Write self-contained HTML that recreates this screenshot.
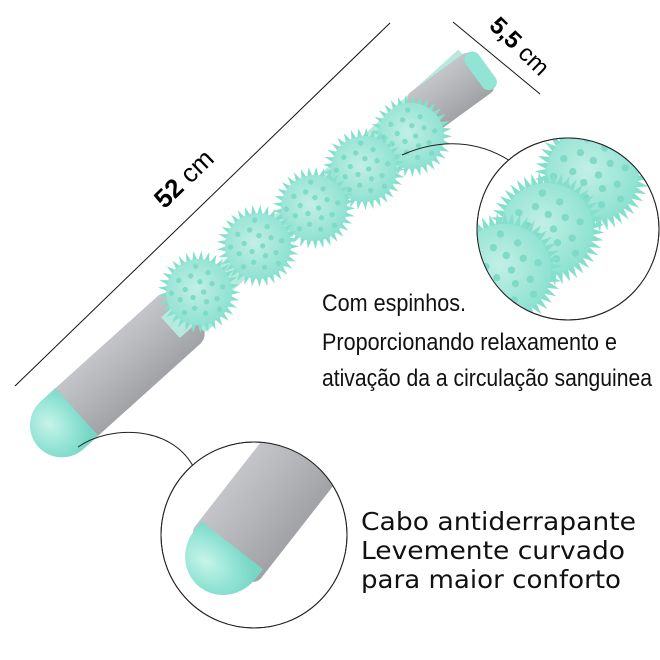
<!DOCTYPE html>
<html><head><meta charset="utf-8"><style>
html,body{margin:0;padding:0;background:#fff;width:660px;height:660px;overflow:hidden}
</style></head><body>
<svg id="s" width="660" height="660" viewBox="0 0 660 660" xmlns="http://www.w3.org/2000/svg">
<defs>
<linearGradient id="gr" x1="0" y1="0" x2="0" y2="1">
<stop offset="0" stop-color="#c4c5c9"/><stop offset="0.45" stop-color="#b4b6ba"/><stop offset="1" stop-color="#a0a2a6"/></linearGradient>
<radialGradient id="tc" cx="0.45" cy="0.35" r="0.7"><stop offset="0" stop-color="#c8f3ea"/><stop offset="0.6" stop-color="#92e4d5"/><stop offset="1" stop-color="#78d6c5"/></radialGradient>
<radialGradient id="bl" cx="0.45" cy="0.45" r="0.6"><stop offset="0" stop-color="#c2efe6"/><stop offset="1" stop-color="#8ae1d0"/></radialGradient>
<clipPath id="c1"><circle cx="568" cy="229" r="91"/></clipPath>
<clipPath id="c2"><circle cx="254" cy="535" r="93"/></clipPath>
</defs>
<line x1="15" y1="386" x2="390" y2="23" stroke="#111" stroke-width="1"/>
<text transform="translate(190,185) rotate(-44)" text-anchor="middle" font-family="Liberation Sans, sans-serif" font-size="26"><tspan font-weight="bold">52</tspan> cm</text>
<line x1="453" y1="22" x2="540" y2="94" stroke="#111" stroke-width="1"/>
<text transform="translate(514,52) rotate(44)" text-anchor="middle" font-family="Liberation Sans, sans-serif" font-size="24"><tspan font-weight="bold">5,5</tspan> cm</text>
<g transform="translate(59,428) rotate(-42)">
<rect x="0" y="-32" width="175" height="64" rx="14" fill="url(#gr)"/>
<rect x="150" y="-14" width="400" height="28" fill="#b8e9df"/>
<rect x="172" y="-27" width="16" height="54" rx="4" fill="#a6eadc"/>
</g>
<g transform="translate(479,72) rotate(-36)">
<rect x="-75" y="-24" width="80" height="48" rx="8" fill="url(#gr)"/>
<rect x="-6" y="-22" width="16" height="44" rx="8" fill="#92e4d5"/>
</g>
<g transform="translate(59,428) rotate(-42)">
<path d="M24,-32 L4,-32 A32,32 0 0 0 4,32 L24,32 Z" fill="url(#tc)"/>
</g>
<g id="balls"></g>
<path d="M402,155 C440,138 480,140 513,163" fill="none" stroke="#222" stroke-width="1"/>
<path d="M78,447 C110,425 170,425 193,466" fill="none" stroke="#222" stroke-width="1"/>
<circle cx="568" cy="229" r="91" fill="#fff" stroke="#222" stroke-width="1"/>
<g clip-path="url(#c1)" id="zb"></g>
<circle cx="568" cy="229" r="91" fill="none" stroke="#222" stroke-width="1"/>
<circle cx="254" cy="535" r="93" fill="#fff" stroke="#222" stroke-width="1"/>
<g clip-path="url(#c2)">
<g transform="translate(222,560) rotate(-52)">
<rect x="0" y="-42" width="220" height="84" rx="10" fill="url(#gr)"/>
<path d="M18,-40 L6,-40 A40,38 0 0 0 6,38 L18,38 Z" fill="url(#tc)"/>
</g>
</g>
<circle cx="254" cy="535" r="93" fill="none" stroke="#222" stroke-width="1"/>
<g font-family="Liberation Sans Narrow, Liberation Sans, sans-serif" font-size="24" fill="#111">
<text x="322" y="311" textLength="144" lengthAdjust="spacingAndGlyphs">Com espinhos.</text>
<text x="322" y="350" textLength="295" lengthAdjust="spacingAndGlyphs">Proporcionando relaxamento e</text>
<text x="322" y="386" textLength="330" lengthAdjust="spacingAndGlyphs">ativação da  a circulação sanguinea</text>
</g>
<g font-family="DejaVu Sans, Liberation Sans, sans-serif" font-size="25" fill="#111">
<text x="361" y="530" textLength="275" lengthAdjust="spacingAndGlyphs">Cabo antiderrapante</text>
<text x="361" y="559" textLength="264" lengthAdjust="spacingAndGlyphs">Levemente curvado</text>
<text x="361" y="588" textLength="260" lengthAdjust="spacingAndGlyphs">para maior conforto</text>
</g>
</svg>
<script>
var NS="http://www.w3.org/2000/svg";
function ball(g,cx,cy,r){
  var n=Math.round(r*1.0);
  for(var i=0;i<n;i++){var a=i/n*Math.PI*2+0.2;
    var p=document.createElementNS(NS,"path");
    var bx=cx+Math.cos(a)*r*0.8,by=cy+Math.sin(a)*r*0.8,tx=cx+Math.cos(a)*r*1.25,ty=cy+Math.sin(a)*r*1.25;
    var w=r*0.12,px=-Math.sin(a)*w,py=Math.cos(a)*w;
    p.setAttribute("d","M"+(bx+px)+","+(by+py)+"L"+tx+","+ty+"L"+(bx-px)+","+(by-py)+"Z");
    p.setAttribute("fill","#84dfcc");g.appendChild(p);}
  var c=document.createElementNS(NS,"circle");c.setAttribute("cx",cx);c.setAttribute("cy",cy);c.setAttribute("r",r);c.setAttribute("fill","url(#bl)");g.appendChild(c);
  for(var k=0;k<18;k++){var a2=k*2.4,d=r*Math.sqrt((k+0.5)/18)*0.85;
    var x=cx+Math.cos(a2)*d,y=cy+Math.sin(a2)*d;
    var q=document.createElementNS(NS,"circle");q.setAttribute("cx",x);q.setAttribute("cy",y);q.setAttribute("r",r*0.08);q.setAttribute("fill","#7fdac8");g.appendChild(q);}
}
var g=document.getElementById("balls");
[[411,136],[364,169],[314,208],[258,246],[199,292]].forEach(function(b){ball(g,b[0],b[1],33);});
var z=document.getElementById("zb");
[[592,175],[547,229],[505,270]].forEach(function(b){ball(z,b[0],b[1],46);});
</script>
</body></html>
